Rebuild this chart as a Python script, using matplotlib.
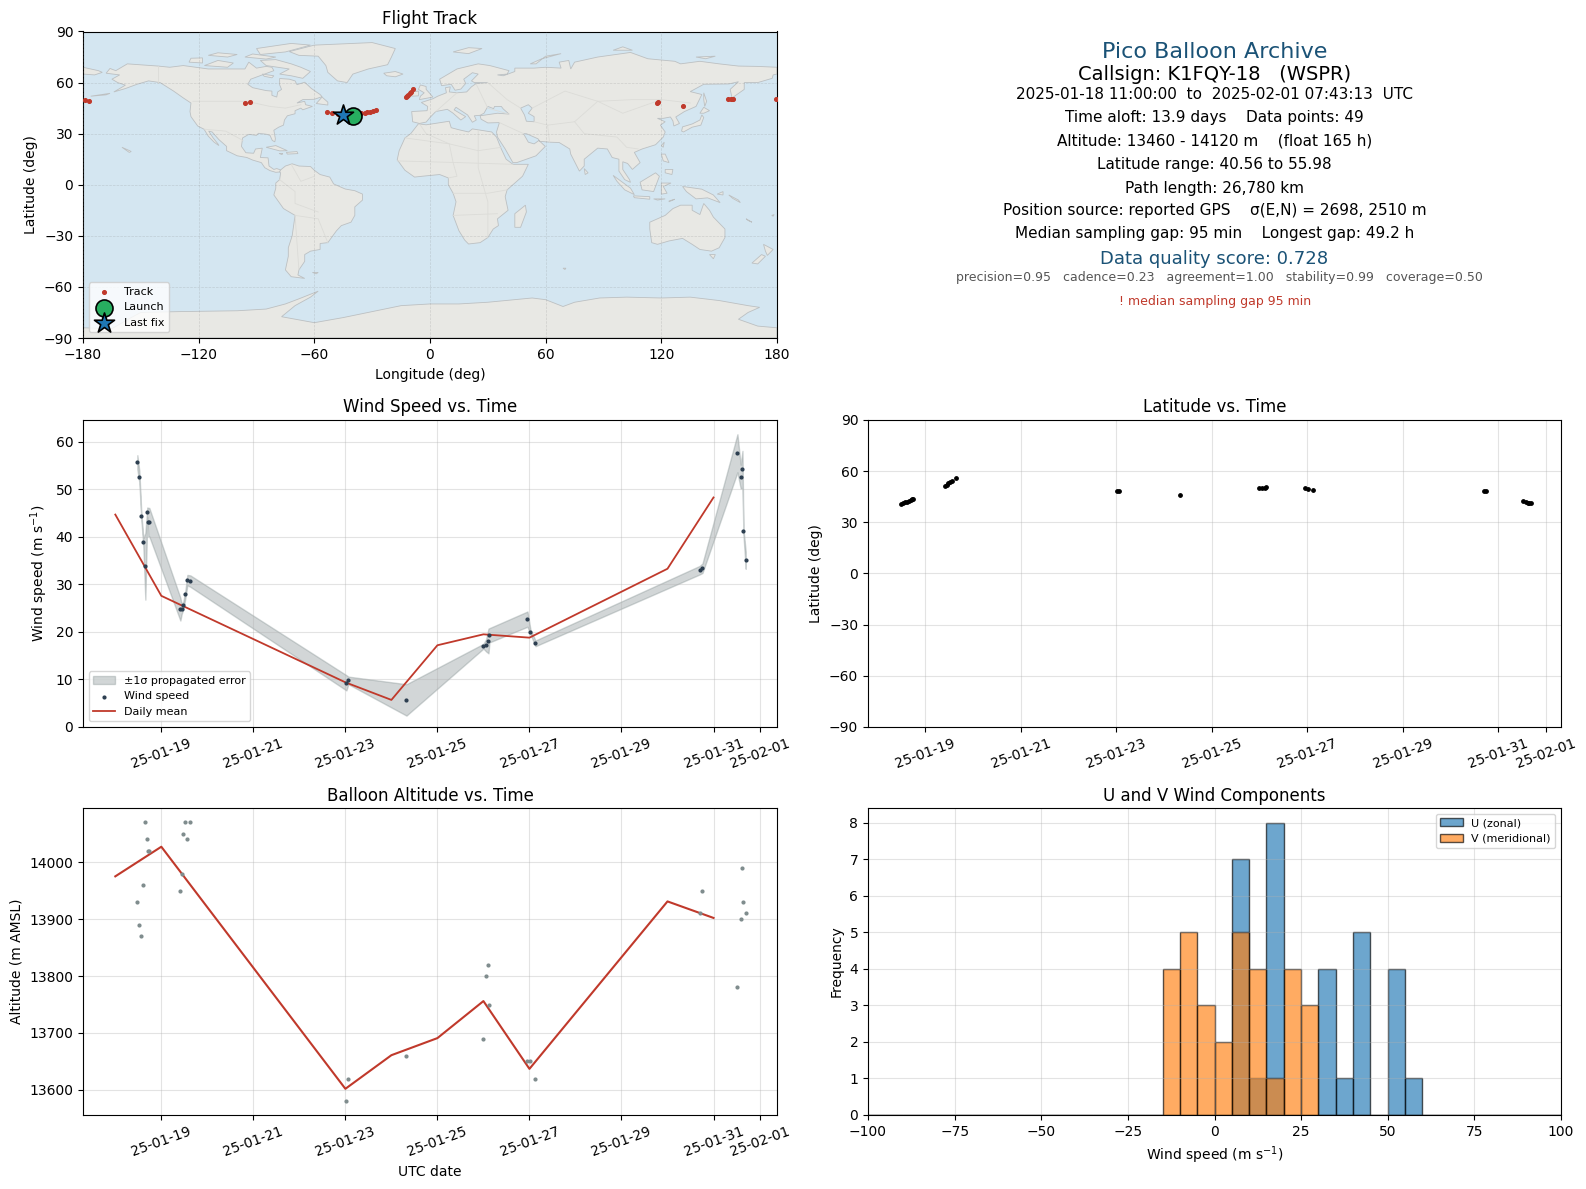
import numpy as np
import pandas as pd
import matplotlib
matplotlib.use("Agg")
import matplotlib.pyplot as plt
import matplotlib.dates as mdates

# Flight samples
times = ["2025-01-18 11:30", "2025-01-18 12:32", "2025-01-18 13:35", "2025-01-18 14:37",
         "2025-01-18 15:40", "2025-01-18 16:42", "2025-01-18 17:12", "2025-01-18 17:44",
         "2025-01-19 09:56", "2025-01-19 10:38", "2025-01-19 11:30", "2025-01-19 12:32",
         "2025-01-19 13:35", "2025-01-19 15:09", "2025-01-23 00:32", "2025-01-23 01:35",
         "2025-01-24 07:51", "2025-01-26 00:00", "2025-01-26 01:25", "2025-01-26 02:38",
         "2025-01-26 03:09", "2025-01-26 22:58", "2025-01-27 00:32", "2025-01-27 03:09",
         "2025-01-30 16:48", "2025-01-30 18:14", "2025-01-31 12:29", "2025-01-31 14:10",
         "2025-01-31 15:07", "2025-01-31 15:36", "2025-01-31 16:48"]
lons = [-40.1, -38.0, -35.9, -33.9, -32.6, -31.0, -29.5, -28.2,
        -12.4, -11.8, -11.2, -10.5, -9.8, -8.7, 118.0, 118.5,
        131.4, 154.8, 156.2, 156.8, 157.3, 179.5, -179.0, -176.7,
        -96.0, -93.4, -53.6, -50.6, -47.5, -46.0, -45.0]
lats = [40.56, 41.3, 41.9, 42.2, 42.6, 43.0, 43.4, 43.9,
        51.4, 52.0, 52.9, 53.6, 54.4, 55.98, 48.3, 48.4,
        46.0, 50.1, 50.1, 50.3, 50.5, 50.1, 49.5, 48.9,
        48.3, 48.4, 42.5, 42.0, 41.4, 41.2, 41.1]
wind = [55.7, 52.7, 44.3, 38.9, 33.8, 45.2, 43.1, 43.1,
        24.8, 24.8, 25.6, 27.9, 30.9, 30.7, 9.3, 9.8,
        5.7, 17.0, 17.2, 18.1, 19.3, 22.7, 20.0, 17.6,
        33.0, 33.4, 57.6, 52.7, 54.2, 41.2, 35.1]
wind_sigma = [1.5, 1.2, 0.6, 0.8, 7.0, 1.0, 3.0, 3.0,
              2.4, 1.0, 0.8, 0.8, 1.1, 1.2, 1.6, 0.8,
              3.3, 0.5, 1.3, 2.6, 1.5, 1.6, 0.5, 0.6,
              0.9, 1.0, 4.0, 2.5, 3.9, 0.6, 1.8]
alts = [13930, 13890, 13870, 13960, 14070, 14040, 14020, 14020,
        13950, 13980, 14050, 14070, 14040, 14070, 13580, 13620,
        13660, 13690, 13800, 13820, 13750, 13650, 13650, 13620,
        13910, 13950, 13780, 13900, 13990, 13930, 13910]

# Daily means
days = ["2025-01-18", "2025-01-19", "2025-01-23", "2025-01-24", "2025-01-25",
        "2025-01-26", "2025-01-27", "2025-01-30", "2025-01-31"]
daily_wind = [44.7, 27.6, 9.4, 5.7, 17.2, 19.5, 18.8, 33.3, 48.3]
daily_alt = [13975, 14027, 13602, 13661, 13691, 13756, 13637, 13931, 13902]

# Histogram counts, 5 m/s bins
bin_edges = list(range(-100, 105, 5))
u_left = [5, 10, 15, 30, 35, 40, 50, 55]
u_counts = [7, 1, 8, 4, 1, 5, 4, 1]
v_left = [-15, -10, -5, 0, 5, 10, 15, 20, 25]
v_counts = [4, 5, 3, 2, 5, 4, 1, 4, 3]

date_ticks = ["2025-01-19", "2025-01-21", "2025-01-23", "2025-01-25",
              "2025-01-27", "2025-01-29", "2025-01-31", "2025-02-01"]

# Rough world outlines (lon, lat)
land = [
    # North America
    [(-168,65.5),(-166,68.3),(-163,67),(-157,71),(-141,69.7),(-135,69),(-128,70),(-115,68),(-108,68),
     (-96,68),(-94,72),(-90,68.5),(-85,69.5),(-82,69),(-81,67),(-87,64.5),(-93,62),(-94.5,59),(-92,57),
     (-85,55.3),(-82,55),(-82,52.5),(-79.5,51.5),(-79,54.5),(-77,56),(-78,58.7),(-78,62.4),(-73,62),
     (-70,61),(-69,58.8),(-65,60.2),(-61.5,56.5),(-57,53),(-56,51.7),(-60,50.2),(-66,50),(-69,48),
     (-65,49),(-64.5,47),(-61,46),(-66,44),(-67,45),(-70,43.5),(-70,41.7),(-74,40.5),(-75.5,38),(-76,35),
     (-78.5,33.8),(-81,32),(-80.2,27),(-80.5,25.2),(-81.8,26),(-83,29),(-85,29.7),(-89,30.2),(-90,29),
     (-94,29.6),(-97.2,27.5),(-97.8,22.5),(-95.5,18.8),(-91.5,18.5),(-90.5,21),(-87,21.5),(-88,16),
     (-84,15.8),(-83.5,11),(-81,9),(-79.5,9.5),(-77.5,8.7),(-78,7.5),(-80,7.3),(-83,8.3),(-85.7,10),
     (-87.5,13),(-92,14.5),(-95,16),(-100,17),(-105.5,20),(-105.5,22.5),(-109.5,26.5),(-113,31),
     (-114.8,31.5),(-112.5,27.5),(-110,24),(-109.5,23),(-112,25),(-115,28.5),(-117.2,32.6),(-120.5,34.5),
     (-124,40),(-124.5,43),(-124,48),(-128,51),(-133,55),(-140,60),(-146,61),(-152,59),(-158,56.5),
     (-164,54.5),(-158,58.5),(-162,60),(-165,62),(-161,64.5)],
    # Greenland and the Arctic islands
    [(-73,78.2),(-60,82),(-30,83.5),(-18,80),(-20,75),(-22,70.5),(-32,68),(-40,65),(-43,60),(-48,61),
     (-53,66),(-54,70),(-58,75.5),(-68,76)],
    [(-80,73.5),(-72,71),(-67,69),(-62,66.5),(-66,62.5),(-72,64),(-78,65),(-73,68),(-85,70),(-88,73)],
    [(-117,70),(-105,69),(-102,71.5),(-110,73)],
    [(-90,80),(-72,83),(-62,82),(-75,78),(-88,76.5)],
    [(-125,72),(-118,71.5),(-118,74.5),(-124,74.3)],
    [(-96,75),(-85,73.8),(-80,75),(-92,76.8)],
    [(-87,65),(-81,64),(-82,62.8),(-86,63.7)],
    [(-115,76),(-105,75),(-100,76.5),(-110,77.5)],
    [(-59,47.7),(-53,46.8),(-53,48.5),(-56,51.5)],
    [(-85,22),(-80,23),(-74,20),(-78,19.9)],
    [(-74.5,19),(-69,19.5),(-68.5,18.3),(-74,18)],
    [(-78.3,18.4),(-76.3,18.2),(-77,17.8)],
    [(-159.8,22),(-155.8,20),(-155,19.5),(-156,19)],
    [(-176,52),(-166,53.7),(-168,52.8)],
    # South America
    [(-77.5,8.7),(-75,11),(-71.5,12.3),(-68,11),(-62,10.7),(-60,8.5),(-57,6),(-52,4.5),(-50,0.5),
     (-44,-2.5),(-39,-3.5),(-35,-5.5),(-35,-9),(-39,-13),(-39,-18),(-41,-22),(-46,-24),(-48.5,-27),
     (-53,-34),(-57,-34.5),(-57,-38),(-62,-39),(-65,-41),(-65,-45),(-68,-50),(-68.5,-53),(-65,-55),
     (-72,-54),(-75,-50),(-73.5,-42),(-73.5,-37),(-71.5,-30),(-70,-18),(-76,-14),(-81,-6),(-80,-2),
     (-80,1),(-78,3),(-77.5,7),(-78,7.5)],
    [(-61,-51.5),(-58,-51.5),(-59,-52.3)],
    # Africa
    [(-6,35.8),(-2,35.2),(10,37.3),(11,33.5),(15,32.3),(20,31),(22,32.8),(32,31),(34.5,28),(37,21),
     (39.5,15),(43,12),(51,12),(48,5),(40,-3),(39,-7),(40.5,-15),(35,-20),(35.5,-24),(32.8,-26),(30,-31),
     (26,-34),(20,-34.8),(18,-32.5),(15,-27),(12,-18),(13.5,-10),(12,-5),(9.5,0),(9.5,4),(5,6),(-4,5),
     (-8,4.5),(-13,8.5),(-17,14.7),(-16,20),(-13,27.5),(-10,30)],
    [(49.5,-12),(50,-16),(47,-25),(44,-25),(44,-17)],
    # Eurasia
    [(-9,37),(-9.5,43),(-1.5,43.5),(-1.2,46),(-4.5,48.3),(1.5,50.5),(4,52),(8.5,54),(8,57),(10.5,57.5),
     (10,54.5),(14,54),(19,54.5),(21.5,57.5),(24,59.5),(30,60),(23,60),(21.5,61),(25,65),(22,65.8),
     (17.5,62),(18.5,59.5),(16,56.2),(13,55.5),(11,59),(6,58.2),(5,62),(14,68),(25,71),(31,70),(41,67),
     (40,65),(35,64.5),(38,64),(44,66.5),(44,68.5),(54,68.5),(60,69),(68,68.5),(67,72),(72,73),(73,68),
     (75,72),(81,73.5),(87,75),(104,77.7),(113,74),(127,72.5),(130,71),(140,72.5),(150,71),(160,69.7),
     (170,69.5),(180,69),(180,65),(178,64.5),(177.5,62.5),(170,60),(163,60),(163,56),(156.7,51),
     (155.7,56),(160,60.5),(155,59.2),(142,59),(135,54.7),(141,53),(138,46),(132,43),(127.5,39.8),
     (129.4,36),(126.5,34.5),(126,37.5),(124.7,39.8),(121,39),(118,39),(122,37),(119.5,35),(122,31),
     (121,28),(117,23.5),(110,21),(106,19),(109,13),(105,9),(102.5,12.5),(100,13.5),(100,9),(103.5,3),
     (104,1.4),(101,3),(98,8),(98,15),(94.5,16),(92,21),(87,21.5),(80,15),(80,11),(77.5,8),(73,18),
     (72.5,21),(67,24.8),(62,25),(57,25.5),(56,27),(50,30),(48.5,30),(51,25),(54,24),(56.5,26),(59.8,22.5),
     (55,17),(45,13),(43,13),(39,21),(35,28),(34.5,31),(36,36.5),(30,36.3),(26.5,38.5),(26,40.5),(29,41),
     (35,42),(41,41.5),(38,44.5),(37,46),(33.5,46),(33,44.7),(30,46),(28,42),(26,40.8),(23,40.5),(24,38),
     (22,36.7),(19.5,41),(13.5,45.5),(12.5,44),(18.5,40),(16,38),(12,42),(9,44.3),(3,43),(0,39.5),
     (-2,36.8),(-5.5,36)],
    [(-180,69),(-172,67),(-170,66),(-174,64.5),(-180,65)],
    [(-5.5,50),(1.5,51.5),(0,53.5),(-2,56),(-2,57.7),(-5,58.6),(-6,56),(-3,54),(-5,52)],
    [(-10,52),(-6,52.2),(-6,55),(-9,54.5)],
    [(-24,65.5),(-18,66.5),(-14,65),(-18,63.4),(-22.5,64)],
    [(12,78),(20,80.5),(27,80),(20,77)],
    [(52,71),(58,74),(68,77),(60,75.5),(55,71)],
    [(95,79),(105,79),(100,81)],
    [(138,75),(148,75.5),(143,74)],
    [(142,54),(143.5,49),(142.5,46),(142,50)],
    [(130.5,31.5),(131,34),(136,35.7),(140,38),(141,41),(142,39.5),(140.5,35),(136,33.8),(131.5,31)],
    [(140,42),(142,45.5),(145,43.5),(142,42)],
    [(120,23),(121.5,25),(121,22)],
    [(120,18),(122,18),(124,13),(121,14)],
    [(122,9),(126,9),(125.5,6),(122,7)],
    [(109,1.5),(117,7),(119,5),(117.5,0.5),(116,-4),(110,-3)],
    [(95,5.5),(104,-2),(106,-5.8),(101,-3),(97,2)],
    [(105.5,-6.5),(114,-7),(114,-8.5),(106,-7.6)],
    [(120,1),(125,1),(121,-1),(123,-5),(120,-5.5)],
    [(116,-8.3),(122,-8.3),(118,-9)],
    [(124,-9.5),(127,-8.5),(124,-10)],
    [(131,-1),(141,-2.6),(147,-6),(150.5,-10.5),(144,-7.7),(138,-8.3),(133,-4)],
    [(149,-5.5),(152,-4),(152,-6)],
    [(155,-6),(160,-9),(161,-10.5),(157,-8)],
    [(165,-21),(167,-22),(164,-20)],
    [(177.3,-18),(178.5,-17.5),(178,-18.5)],
    [(69,-49),(70.5,-49),(70,-49.8)],
    [(80,9.5),(82,7),(80.5,6)],
    # Australia and New Zealand
    [(114,-22),(122,-18),(126,-14),(130,-12),(136,-12),(136,-15),(140,-17.5),(142,-11),(145,-15),(147,-19),
     (153,-26),(153,-31),(150,-37),(146,-39),(140,-38),(136,-35),(131,-31.5),(124,-33),(118,-35),(115,-34),
     (114,-26)],
    [(145,-41),(148,-41),(147,-43.5)],
    [(173,-35),(178,-38),(175,-41.5),(174,-39)],
    [(172,-41),(174,-42),(170,-46.5),(167,-46)],
    # Antarctica
    [(-180,-84),(-165,-84.5),(-155,-78),(-150,-75),(-130,-74.5),(-100,-74),(-85,-73),(-75,-70),(-68,-67),
     (-58,-62.5),(-62,-66),(-70,-71),(-77,-77.5),(-60,-81),(-45,-78),(-30,-74.5),(-15,-71),(0,-70),(15,-70),
     (30,-69),(53,-66.5),(60,-67.5),(69,-71.5),(75,-69),(88,-66.5),(102,-66),(120,-66.5),(135,-66),(150,-68),
     (165,-71),(171,-72),(165,-75),(160,-79),(170,-83),(180,-84),(180,-90),(-180,-90)],
]
caspian = [(47,45),(51,47),(53,45),(51,42),(54,40),(54,37),(50,37.3),(49,41)]
borders = [
    [(-123,49),(-95,49),(-83,46),(-75,45),(-67,47)],
    [(-141,69.7),(-141,60)],
    [(-117,32.6),(-106,31.5),(-97,26)],
    [(-70,-18),(-58,-20),(-53,-34)],
    [(-78,3),(-70,-4),(-70,-11),(-58,-16)],
    [(-70,-18),(-68,-50)],
    [(-72,12),(-67,2),(-60,5)],
    [(-13,27.5),(10,24),(25,20),(37,22)],
    [(-5,35),(-2,30),(10,24),(12,13),(14,5),(9.5,4)],
    [(25,32),(25,10),(30,-10),(30,-31)],
    [(12,-5),(30,-5),(40,-3)],
    [(-17,14),(15,13),(43,12)],
    [(12,-18),(35,-17)],
    [(3,43),(8,48),(14,54)],
    [(24,59),(30,45),(41,41.5)],
    [(30,60),(40,50),(47,45)],
    [(53,45),(70,55),(87,49),(105,50),(120,50),(135,48)],
    [(87,49),(80,42),(75,37),(61,35),(62,25)],
    [(87,49),(100,42),(120,50)],
    [(75,37),(80,30),(97,28),(102,22),(108,21)],
    [(36,36.5),(48.5,30)],
    [(54,37),(61,35)],
]

W, H = 1586.0, 1189.0

def pixel_axes(left, top, right, bottom):
    return fig.add_axes([left / W, 1 - bottom / H, (right - left) / W, (bottom - top) / H])

def style_time_axis(ax, start, end):
    ax.set_xlim(start, end)
    ax.set_xticks(tick_dates)
    ax.xaxis.set_major_formatter(mdates.DateFormatter("%y-%m-%d"))
    ax.tick_params(axis="x", labelrotation=20)
    ax.grid(True, alpha=0.35)

t = pd.to_datetime(times)
d = pd.to_datetime(days)
tick_dates = pd.to_datetime(date_ticks)
t0 = pd.Timestamp("2025-01-17 07:09")
t1 = pd.Timestamp("2025-02-01 09:07")
lat_t0 = pd.Timestamp("2025-01-17 19:05")
lat_t1 = pd.Timestamp("2025-02-01 07:43")
wind_arr = np.array(wind)
sigma_arr = np.array(wind_sigma)

red = "#c0392b"
navy = "#1a5276"
slate = "#2c3e50"
grey = "#7f8c8d"

fig = plt.figure(figsize=(W / 100, H / 100), dpi=100)

# Map
ax_map = pixel_axes(83, 31.5, 777, 338)
ax_map.set_facecolor("#d4e6f1")
for poly in land:
    xs, ys = zip(*poly)
    ax_map.fill(xs, ys, facecolor="#e8e8e4", edgecolor="#bcc0c2", linewidth=0.6, zorder=1)
xs, ys = zip(*caspian)
ax_map.fill(xs, ys, facecolor="#d4e6f1", edgecolor="#bcc0c2", linewidth=0.6, zorder=1.1)
for line in borders:
    xs, ys = zip(*line)
    ax_map.plot(xs, ys, color="#dcdcd8", linewidth=0.6, zorder=1.2)
ax_map.scatter(lons, lats, s=7, color=red, zorder=3, label="Track")
ax_map.scatter(lons[0], lats[0], s=150, color="#27ae60", edgecolor="k", linewidth=1.2, zorder=4, label="Launch")
ax_map.scatter(lons[-1], lats[-1], s=230, marker="*", color="#1f77b4", edgecolor="k", linewidth=1.2, zorder=5, label="Last fix")
ax_map.set_xlim(-180, 180)
ax_map.set_ylim(-90, 90)
ax_map.set_xticks(np.arange(-180, 181, 60))
ax_map.set_yticks(np.arange(-90, 91, 30))
ax_map.grid(True, color="gray", linestyle="--", linewidth=0.5, alpha=0.25, zorder=2)
ax_map.set_axisbelow(False)
ax_map.set_xlabel("Longitude (deg)", labelpad=4.7)
ax_map.set_ylabel("Latitude (deg)")
ax_map.set_title("Flight Track", fontsize=12, pad=5.3)
ax_map.legend(loc="lower left", fontsize=8)

# Summary text
summary = [
    ("Pico Balloon Archive", 16, navy, 1214.5, 51.6),
    ("Callsign: K1FQY-18   (WSPR)", 14, "black", 1214.5, 74),
    ("2025-01-18 11:00:00  to  2025-02-01 07:43:13  UTC", 11, "black", 1214.5, 94.5),
    ("Time aloft: 13.9 days    Data points: 49", 11, "black", 1214.5, 117.5),
    ("Altitude: 13460 - 14120 m    (float 165 h)", 11, "black", 1214.5, 140.6),
    ("Latitude range: 40.56 to 55.98", 11, "black", 1214.5, 164),
    ("Path length: 26,780 km", 11, "black", 1214.5, 188),
    ("Position source: reported GPS    σ(E,N) = 2698, 2510 m", 11, "black", 1214.5, 210),
    ("Median sampling gap: 95 min    Longest gap: 49.2 h", 11, "black", 1214.5, 233.6),
    ("Data quality score: 0.728", 13, navy, 1214.5, 259),
    ("precision=0.95   cadence=0.23   agreement=1.00   stability=0.99   coverage=0.50", 9, "#555555", 1219.5, 278),
    ("! median sampling gap 95 min", 9, red, 1215, 301),
]
for label, size, colour, xpix, ypix in summary:
    fig.text(xpix / W, 1 - ypix / H, label, fontsize=size, color=colour, ha="center", va="center")

# Wind speed
ax_wind = pixel_axes(83, 420, 777, 727)
ax_wind.fill_between(t, wind_arr - sigma_arr, wind_arr + sigma_arr, color=grey, alpha=0.35,
                     label="±1σ propagated error")
ax_wind.scatter(t, wind, s=4, color=slate, zorder=3, label="Wind speed")
ax_wind.plot(d, daily_wind, color=red, linewidth=1.3, label="Daily mean")
ax_wind.set_ylim(0, 64.6)
ax_wind.set_ylabel("Wind speed (m s$^{-1}$)")
ax_wind.set_title("Wind Speed vs. Time", fontsize=12)
ax_wind.legend(loc="lower left", fontsize=8)
style_time_axis(ax_wind, t0, t1)

# Latitude
ax_lat = pixel_axes(868, 420, 1561, 727)
ax_lat.scatter(t, lats, s=6, color="k", zorder=3)
ax_lat.set_ylim(-90, 90)
ax_lat.set_yticks(np.arange(-90, 91, 30))
ax_lat.set_ylabel("Latitude (deg)")
ax_lat.set_title("Latitude vs. Time", fontsize=12)
style_time_axis(ax_lat, lat_t0, lat_t1)

# Altitude
ax_alt = pixel_axes(83, 808, 777, 1115)
ax_alt.scatter(t, alts, s=4, color=grey, zorder=3)
ax_alt.plot(d, daily_alt, color=red, linewidth=1.5)
ax_alt.set_ylim(13556, 14095)
ax_alt.set_xlabel("UTC date")
ax_alt.set_ylabel("Altitude (m AMSL)")
ax_alt.set_title("Balloon Altitude vs. Time", fontsize=12, pad=5.3)
style_time_axis(ax_alt, t0, t1)

# U and V histogram
ax_hist = pixel_axes(868, 808, 1561, 1115)
ax_hist.hist(u_left, bins=bin_edges, weights=u_counts, color="C0", edgecolor="k", alpha=0.65, label="U (zonal)")
ax_hist.hist(v_left, bins=bin_edges, weights=v_counts, color="C1", edgecolor="k", alpha=0.65, label="V (meridional)")
ax_hist.set_xlim(-100, 100)
ax_hist.set_ylim(0, 8.4)
ax_hist.set_xlabel("Wind speed (m s$^{-1}$)")
ax_hist.set_ylabel("Frequency")
ax_hist.set_title("U and V Wind Components", fontsize=12, pad=5.3)
ax_hist.legend(loc="upper right", fontsize=8)
ax_hist.grid(True, alpha=0.35)

fig.savefig("out.png", dpi=100)
